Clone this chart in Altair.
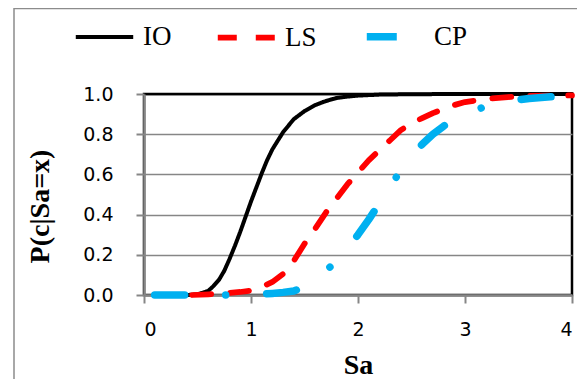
import altair as alt
import pandas as pd

series = ["IO", "LS", "CP"]
colors = ["#000000", "#FF0000", "#00B0F0"]
dashes = [[1, 0], [19, 19], [30, 41, 0.01, 41]]
widths = [4, 7.5, 7.5]

io_sa = [0.4, 0.5, 0.6, 0.65, 0.7, 0.75, 0.8, 0.85, 0.9, 0.95, 1.0, 1.05, 1.1, 1.15, 1.2,
         1.3, 1.4, 1.5, 1.6, 1.7, 1.8, 1.9, 2.0, 2.2, 2.5, 3.0, 3.5, 4.0]
io_p = [0.0, 0.003, 0.02, 0.045, 0.075, 0.12, 0.18, 0.245, 0.315, 0.39, 0.465, 0.535, 0.605, 0.67, 0.725,
        0.81, 0.875, 0.915, 0.945, 0.965, 0.98, 0.987, 0.992, 0.997, 0.999, 1.0, 1.0, 1.0]

ls_sa = [0.45, 0.6, 0.7, 0.8, 0.9, 1.0, 1.1, 1.2, 1.3, 1.4, 1.5, 1.6, 1.7, 1.8, 1.9, 2.0,
         2.1, 2.2, 2.3, 2.4, 2.5, 2.6, 2.7, 2.8, 2.9, 3.0, 3.2, 3.4, 3.6, 3.8, 4.0]
ls_p = [0.0, 0.003, 0.006, 0.01, 0.015, 0.022, 0.04, 0.065, 0.105, 0.17, 0.255, 0.33, 0.41, 0.48, 0.55, 0.61,
        0.67, 0.72, 0.77, 0.82, 0.855, 0.88, 0.905, 0.925, 0.945, 0.96, 0.975, 0.985, 0.99, 0.992, 0.993]

cp_sa = [0.1, 0.3, 0.5, 0.7, 0.9, 1.0, 1.1, 1.2, 1.3, 1.4, 1.5, 1.6, 1.7, 1.8, 1.9, 2.0,
         2.1, 2.2, 2.3, 2.4, 2.5, 2.6, 2.7, 2.8, 2.9, 3.0, 3.2, 3.4, 3.6, 3.8, 4.0]
cp_p = [0.0, 0.0, 0.0, 0.0, 0.001, 0.002, 0.004, 0.008, 0.013, 0.02, 0.04, 0.075, 0.12, 0.17, 0.23, 0.30,
        0.375, 0.455, 0.54, 0.62, 0.69, 0.75, 0.80, 0.84, 0.875, 0.90, 0.94, 0.965, 0.978, 0.986, 0.99]

rows = []
for name, xs, ps in [("IO", io_sa, io_p), ("LS", ls_sa, ls_p), ("CP", cp_sa, cp_p)]:
    for x, p in zip(xs, ps):
        rows.append({"series": name, "Sa": x, "P": p})
df = pd.DataFrame(rows)

leg = alt.Legend(title=None, orient="none", legendX=-72, legendY=-90, direction="horizontal",
                 columns=3, symbolType="stroke", symbolSize=3300, labelFont="Liberation Serif",
                 labelFontSize=27, labelColor="black", labelOffset=6, columnPadding=34, padding=0)

lines = alt.Chart(df).mark_line(strokeCap="round", strokeJoin="round").encode(
    x=alt.X("Sa:Q", scale=alt.Scale(domain=[0, 4], nice=False),
            axis=alt.Axis(values=[0, 1, 2, 3, 4], format="d", title="Sa", grid=False,
                          labelPadding=17, titleY=78, titleBaseline="alphabetic", zindex=0)),
    y=alt.Y("P:Q", scale=alt.Scale(domain=[0, 1], nice=False),
            axis=alt.Axis(values=[0, 0.2, 0.4, 0.6, 0.8, 1.0], format=".1f", title="P(c|Sa=x)",
                          labelPadding=23, titleX=-96, titleY=112, titleBaseline="alphabetic",
                          gridColor={"condition": {"test": "datum.value >= 1", "value": "black"},
                                     "value": "#868686"},
                          zindex=0)),
    color=alt.Color("series:N", scale=alt.Scale(domain=series, range=colors), legend=leg),
    strokeDash=alt.StrokeDash("series:N", scale=alt.Scale(domain=series, range=dashes), legend=leg),
    strokeWidth=alt.StrokeWidth("series:N", scale=alt.Scale(domain=series, range=widths), legend=leg),
)

frame = alt.Chart(pd.DataFrame({"a": [0]})).mark_rect(filled=False, stroke="#8c8c8c", strokeWidth=1.5).encode(
    x=alt.value(-130), x2=alt.value(470), y=alt.value(-85.5), y2=alt.value(400)
)

chart = alt.layer(frame, lines).properties(
    width=428, height=201,
    padding={"left": 136, "top": 86, "right": 5, "bottom": 86},
    autosize=alt.AutoSizeParams(type="none"),
).configure_view(stroke="black", strokeWidth=2.5).configure_axis(
    domainColor="#868686", domainWidth=2.5, tickColor="#868686", tickWidth=2, tickSize=8,
    gridColor="#868686", gridWidth=1.5, labelFont="DejaVu Sans", labelFontSize=19, labelColor="black",
    titleFont="Liberation Serif", titleFontSize=28, titleFontWeight="bold", titleColor="black",
)

chart.save("out.html", embed_options={"renderer": "svg", "actions": False})
